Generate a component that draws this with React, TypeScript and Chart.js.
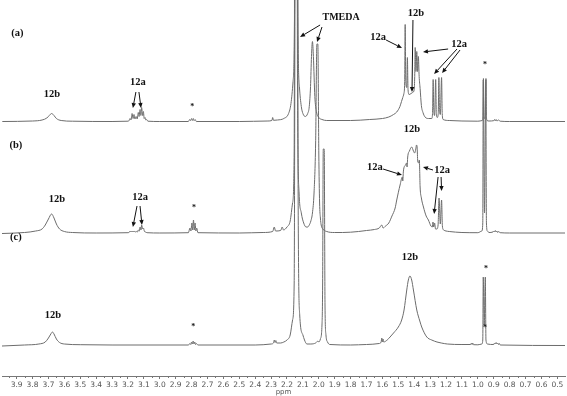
import React, { useEffect, useRef } from "react";
import { Chart, registerables } from "chart.js";
Chart.register(...registerables);

// Axis tick labels (ppm)
const TICK_LABELS = ["3.9","3.8","3.7","3.6","3.5","3.4","3.3","3.2","3.1","3.0","2.9","2.8","2.7","2.6","2.5","2.4","2.3","2.2","2.1","2.0","1.9","1.8","1.7","1.6","1.5","1.4","1.3","1.2","1.1","1.0","0.9","0.8","0.7","0.6","0.5"];
const X_MIN = 0.452;
const X_MAX = 3.992;

// Spectrum (a): [ppm, intensity]
const SPEC_A: [number, number][] = [
  [3.99,0],[3.80,0.5],[3.74,1.5],[3.71,3.5],[3.695,6],[3.68,8],[3.665,6],[3.65,3],[3.62,1],[3.55,0.3],[3.30,0],[3.20,0.3],
  [3.195,0.5],[3.187,3],[3.181,1.5],[3.174,8],[3.168,3],[3.162,7],[3.156,2.5],[3.149,5],[3.142,2.5],[3.135,9],[3.13,5],[3.124,12],[3.119,6],[3.114,14],[3.108,6],[3.103,10],[3.098,3],[3.093,4],[3.088,1.5],[3.082,2],[3.075,0.3],[3.0,0],
  [2.82,0],[2.812,2],[2.807,0.8],[2.80,3],[2.795,1],[2.789,3],[2.784,0.8],[2.778,2],[2.77,0],[2.5,0],
  [2.32,0.5],[2.295,1],[2.29,4],[2.285,1.2],[2.26,1.5],[2.22,3],[2.19,8],[2.175,18],[2.162,40],[2.152,120],[2.147,600],[2.137,600],[2.132,120],[2.122,35],[2.11,15],[2.10,8],[2.085,5],
  [2.07,8],[2.06,15],[2.052,35],[2.046,65],[2.04,80],[2.034,65],[2.025,25],[2.015,10],[2.0,4],[1.98,2],[1.95,1],[1.80,1],[1.68,2],[1.60,3],[1.56,4.5],[1.53,7],[1.51,9.5],[1.49,15],[1.48,20],[1.472,24],[1.465,28],
  [1.46,40],[1.457,97],[1.453,40],[1.447,34],[1.443,64],[1.439,32],[1.432,27],[1.42,28],[1.41,29],[1.40,32],[1.397,45],[1.394,74],[1.389,50],[1.384,70],[1.379,50],[1.374,65],[1.369,45],[1.363,33],[1.355,16],[1.345,9],[1.332,4.5],[1.31,3],
  [1.29,3],[1.285,8],[1.281,42],[1.277,10],[1.272,6],[1.265,42],[1.261,8],[1.255,4],[1.249,8],[1.245,44],[1.241,10],[1.236,7],[1.228,44],[1.224,8],[1.218,2],[1.18,1],[1.10,0.5],[1.0,0.3],
  [0.972,1],[0.968,5],[0.965,43],[0.961,5],[0.957,3],[0.953,5],[0.949,43],[0.946,5],[0.942,1],[0.93,0.5],[0.90,0.8],[0.895,2],[0.89,0.5],[0.885,2],[0.88,0.5],[0.87,1.5],[0.86,0.3],[0.80,0],[0.452,0]
];

// Spectrum (b)
const SPEC_B: [number, number][] = [
  [3.992,-0.5],[3.85,0.5],[3.78,2],[3.74,4],[3.72,8],[3.70,14],[3.68,19],[3.665,15],[3.65,9],[3.63,4],[3.60,1.5],[3.55,0.5],[3.40,0],[3.20,0.3],
  [3.19,1],[3.186,2],[3.18,1],[3.174,2],[3.168,1],[3.162,2],[3.155,1],[3.148,1.5],[3.14,1],[3.135,3],[3.128,2],[3.124,6],[3.118,3],[3.114,8],[3.108,4],[3.103,5],[3.096,1.5],[3.09,1],[3.08,0.3],[3.0,0],
  [2.82,0.3],[2.81,5],[2.804,2],[2.798,10],[2.793,3],[2.788,13],[2.783,3],[2.778,10],[2.773,2],[2.768,5],[2.76,0.3],[2.5,0],
  [2.35,0.5],[2.29,1.5],[2.28,6],[2.272,2],[2.24,2.5],[2.23,6],[2.222,3],[2.20,6],[2.18,12],[2.165,30],[2.155,80],[2.149,600],[2.139,600],[2.134,150],[2.124,40],[2.11,20],[2.095,10],[2.08,6],
  [2.07,6],[2.06,8],[2.05,12],[2.04,20],[2.03,40],[2.02,90],[2.012,189],[2.006,189],[2.0,80],[1.995,30],[1.99,15],[1.985,8],[1.975,4],[1.95,1.5],[1.90,0.5],[1.85,0.5],[1.75,1.5],[1.70,2.5],[1.65,3.5],
  [1.62,5],[1.604,8],[1.596,5],[1.58,7],[1.56,10],[1.54,17],[1.52,25],[1.51,33],[1.489,48],[1.475,56],[1.472,52],[1.468,62],[1.455,68],[1.448,70],[1.445,66],[1.441,76],[1.43,82],[1.416,86],[1.405,82],[1.398,80],
  [1.39,84],[1.386,88],[1.382,86],[1.378,72],[1.372,70],[1.368,73],[1.363,46],[1.355,35],[1.342,26],[1.325,17],[1.311,13],[1.295,7],[1.286,6],[1.282,11],[1.278,6],[1.272,10],[1.266,4],[1.258,4],[1.25,8],
  [1.244,35],[1.236,9],[1.228,33],[1.223,7],[1.215,3],[1.20,2],[1.18,1.5],[1.10,0.5],[1.0,0.3],
  [0.975,2],[0.969,10],[0.966,153],[0.958,20],[0.950,153],[0.946,10],[0.94,2],[0.93,0.5],[0.905,1],[0.90,2],[0.895,1],[0.89,2.5],[0.885,1],[0.88,2],[0.875,0.5],[0.87,1.5],[0.86,0.3],[0.80,0],[0.452,0]
];

// Spectrum (c)
const SPEC_C: [number, number][] = [
  [3.992,-1],[3.85,0],[3.76,1],[3.72,3],[3.70,7],[3.685,11],[3.675,13],[3.665,11],[3.65,6],[3.63,2.5],[3.60,1],[3.50,0.3],[3.30,0],
  [2.82,0],[2.81,1.5],[2.805,0.5],[2.80,3],[2.795,1],[2.79,4],[2.785,1],[2.78,3],[2.775,0.5],[2.77,1.5],[2.76,0],[2.40,0],
  [2.30,1],[2.285,2],[2.28,5],[2.275,2.5],[2.27,4.5],[2.265,2],[2.24,2],[2.22,3],[2.20,5],[2.18,10],[2.165,25],[2.155,60],[2.145,600],[2.135,600],[2.13,150],[2.12,30],[2.10,10],[2.09,5],[2.075,1],
  [2.05,1],[2.02,2],[2.005,4],[2.0,3],[1.99,6],[1.98,20],[1.976,60],[1.972,196],[1.966,196],[1.961,40],[1.955,10],[1.945,3],[1.93,0.5],[1.80,0],[1.70,0.5],
  [1.62,1.5],[1.608,3],[1.604,7],[1.60,3],[1.596,6],[1.592,3],[1.57,5],[1.552,8],[1.53,12],[1.50,18],[1.479,25],[1.464,35],[1.447,55],[1.437,65],[1.427,69],[1.416,65],[1.405,55],[1.384,35],[1.365,24],[1.353,18],
  [1.321,8],[1.29,5],[1.257,3],[1.23,2],[1.192,1],[1.10,0.5],[1.045,0.5],[1.04,2],[1.036,0.5],[1.032,2],[1.028,0.3],[1.0,0.2],
  [0.975,1],[0.969,5],[0.966,68],[0.960,20],[0.953,68],[0.949,5],[0.94,1],[0.90,0.5],[0.895,2],[0.89,1],[0.885,2.5],[0.88,1],[0.875,2],[0.87,0.5],[0.865,1.5],[0.86,0],[0.452,-0.5]
];

// Vertical stacking offsets of the three traces
const OFFSET_A = 254.5;
const OFFSET_B = 143;
const OFFSET_C = 31;
const Y_MAX = 376;

// Annotations: text at (ppm, height)
const LABELS: { t: string; p: number; v: number }[] = [
  { t: "(a)", p: 3.895, v: 343 },
  { t: "(b)", p: 3.905, v: 231 },
  { t: "(c)", p: 3.905, v: 139 },
  { t: "12b", p: 3.678, v: 282 },
  { t: "12a", p: 3.137, v: 294 },
  { t: "*", p: 2.796, v: 269 },
  { t: "TMEDA", p: 1.86, v: 359 },
  { t: "12b", p: 1.389, v: 363 },
  { t: "12a", p: 1.627, v: 339 },
  { t: "12a", p: 1.118, v: 332 },
  { t: "*", p: 0.955, v: 311 },
  { t: "12b", p: 1.414, v: 247 },
  { t: "12b", p: 3.647, v: 177 },
  { t: "12a", p: 3.124, v: 179 },
  { t: "*", p: 2.784, v: 168 },
  { t: "12a", p: 1.647, v: 209 },
  { t: "12a", p: 1.225, v: 206 },
  { t: "12b", p: 3.672, v: 61 },
  { t: "*", p: 2.79, v: 49 },
  { t: "12b", p: 1.427, v: 119 },
  { t: "*", p: 0.949, v: 107 },
  { t: "*", p: 0.955, v: 48 }
];

// Arrows: [ppmFrom, vFrom, ppmTo, vTo]
const ARROWS: [number, number, number, number][] = [
  [3.150, 284, 3.169, 268],
  [3.131, 284, 3.118, 268],
  [1.992, 351, 2.118, 339],
  [1.980, 349, 2.011, 334],
  [1.408, 356, 1.414, 284],
  [1.577, 336, 1.477, 328],
  [1.187, 327, 1.345, 324],
  [1.131, 327, 1.275, 302],
  [1.112, 326, 1.225, 303],
  [3.143, 170, 3.169, 149],
  [3.124, 170, 3.112, 151],
  [1.596, 207, 1.477, 201],
  [1.282, 206, 1.345, 209],
  [1.250, 199, 1.275, 162],
  [1.231, 199, 1.228, 185]
];

export default function App() {
  const ref = useRef<HTMLCanvasElement>(null);
  useEffect(() => {
    const canvas = ref.current;
    if (!canvas) return;
    const mk = (s: [number, number][], off: number) => s.map(([p, h]) => ({ x: p, y: h + off }));
    const lineStyle: any = {
      borderColor: "#6c6c6c",
      borderWidth: 1,
      pointRadius: 0,
      fill: false,
      cubicInterpolationMode: "monotone",
    };
    const majorVals = TICK_LABELS.map((l) => parseFloat(l));

    const annot = {
      id: "annot",
      afterDatasetsDraw(chart: any) {
        const { ctx, scales, chartArea } = chart;
        const x = scales.x, y = scales.y;
        ctx.save();
        // minor ticks
        ctx.strokeStyle = "#777";
        ctx.lineWidth = 1;
        const minors: number[] = [];
        for (let i = 0; i < majorVals.length - 1; i++) minors.push((majorVals[i] + majorVals[i + 1]) / 2);
        minors.push(majorVals[0] + 0.05);
        for (const m of minors) {
          const px = Math.round(x.getPixelForValue(m)) + 0.5;
          ctx.beginPath();
          ctx.moveTo(px, chartArea.bottom);
          ctx.lineTo(px, chartArea.bottom + 2);
          ctx.stroke();
        }
        // labels
        ctx.fillStyle = "#111";
        ctx.textAlign = "center";
        ctx.textBaseline = "middle";
        for (const l of LABELS) {
          ctx.font = l.t === "*" ? 'bold 8px "Liberation Serif"' : l.t === "TMEDA" ? 'bold 10px "Liberation Serif"' : 'bold 10.5px "Liberation Serif"';
          ctx.fillText(l.t, x.getPixelForValue(l.p), y.getPixelForValue(l.v));
        }
        // arrows
        ctx.strokeStyle = "#111";
        ctx.lineWidth = 1;
        for (const [p1, v1, p2, v2] of ARROWS) {
          const x1 = x.getPixelForValue(p1), y1 = y.getPixelForValue(v1);
          const x2 = x.getPixelForValue(p2), y2 = y.getPixelForValue(v2);
          const a = Math.atan2(y2 - y1, x2 - x1);
          const hl = 5, hw = 2.2;
          const bx = x2 - hl * Math.cos(a), by = y2 - hl * Math.sin(a);
          ctx.beginPath();
          ctx.moveTo(x1, y1);
          ctx.lineTo(bx, by);
          ctx.stroke();
          ctx.beginPath();
          ctx.moveTo(x2, y2);
          ctx.lineTo(bx + hw * Math.sin(a), by - hw * Math.cos(a));
          ctx.lineTo(bx - hw * Math.sin(a), by + hw * Math.cos(a));
          ctx.closePath();
          ctx.fill();
        }
        ctx.restore();
      },
    };

    const chart = new Chart(canvas, {
      type: "line",
      data: {
        datasets: [
          { ...lineStyle, data: mk(SPEC_C, OFFSET_C) },
          { ...lineStyle, data: mk(SPEC_B, OFFSET_B) },
          { ...lineStyle, data: mk(SPEC_A, OFFSET_A) },
        ],
      },
      options: {
        animation: false,
        responsive: false,
        events: [],
        layout: { padding: { left: 2, right: 2, top: 0, bottom: 0 } },
        plugins: { legend: { display: false }, tooltip: { enabled: false } },
        scales: {
          x: {
            type: "linear",
            reverse: true,
            min: X_MIN,
            max: X_MAX,
            afterBuildTicks: (s: any) => {
              s.ticks = majorVals.map((v) => ({ value: v }));
            },
            afterFit: (s: any) => {
              s.height = 20;
            },
            ticks: {
              autoSkip: false,
              maxRotation: 0,
              minRotation: 0,
              padding: 2,
              color: "#555",
              font: { family: "DejaVu Sans", size: 7.5 },
              callback: (v: any) => Number(v).toFixed(1),
            },
            grid: { drawOnChartArea: false, drawTicks: true, tickLength: 3, color: "#777" },
            border: { display: true, color: "#777", width: 1 },
            title: {
              display: true,
              text: "ppm",
              color: "#555",
              font: { family: "DejaVu Sans", size: 7 },
              padding: { top: 0, bottom: 0 },
            },
          },
          y: { display: false, min: 0, max: Y_MAX },
        },
      } as any,
      plugins: [annot],
    });
    return () => chart.destroy();
  }, []);
  return (
    <div style={{ position: "fixed", left: 0, top: 0, width: 567, height: 396, background: "#fff" }}>
      <canvas ref={ref} width={567} height={396} style={{ display: "block" }} />
    </div>
  );
}
